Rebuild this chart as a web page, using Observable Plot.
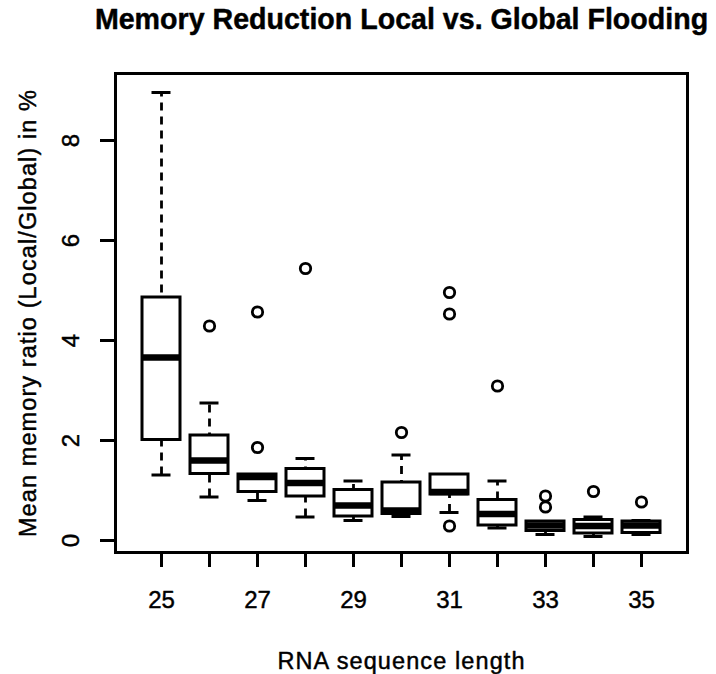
<!DOCTYPE html>
<html>
<head>
<meta charset="utf-8">
<script src="https://cdn.jsdelivr.net/npm/d3@7"></script>
<script src="https://cdn.jsdelivr.net/npm/@observablehq/plot@0.6"></script>
<style>
  html, body { margin: 0; padding: 0; background: #fff; }
  svg { display: block; }
</style>
</head>
<body>
<div id="chart"></div>
<script>
const titleText = "Memory Reduction Local vs. Global Flooding";
const xLabel = "RNA sequence length";
const yLabel = "Mean memory ratio (Local/Global) in %";

const lengths     = [25, 26, 27, 28, 29, 30, 31, 32, 33, 34, 35];
const whiskerLow  = [1.31, 0.87, 0.80, 0.47, 0.40, 0.48, 0.56, 0.25, 0.12, 0.08, 0.12];
const q1          = [2.01, 1.33, 0.97, 0.88, 0.48, 0.53, 0.92, 0.30, 0.19, 0.14, 0.15];
const medians     = [3.66, 1.60, 1.27, 1.15, 0.70, 0.60, 0.97, 0.53, 0.30, 0.29, 0.30];
const q3          = [4.86, 2.10, 1.32, 1.43, 1.01, 1.16, 1.32, 0.81, 0.38, 0.41, 0.38];
const whiskerHigh = [8.96, 2.75, 1.32, 1.64, 1.19, 1.71, 1.32, 1.19, 0.38, 0.47, 0.40];

const outlierLength = [26, 27, 27, 28, 30, 31, 31, 31, 32, 33, 33, 34, 35];
const outlierValue  = [4.29, 4.57, 1.86, 5.44, 2.16, 4.96, 4.53, 0.29, 3.09, 0.89, 0.67, 0.98, 0.77];

const yTicks = [0, 2, 4, 6, 8];

const boxes = lengths.map((len, i) => ({
  len, lo: whiskerLow[i], q1: q1[i], med: medians[i], q3: q3[i], hi: whiskerHigh[i]
}));
const outliers = outlierLength.map((len, i) => ({len, v: outlierValue[i]}));

const font = "Liberation Sans, Arial, Helvetica, sans-serif";
const heavy = {fill: "black", stroke: "black", strokeWidth: 0.45};

const chart = Plot.plot({
  width: 716,
  height: 674,
  marginLeft: 115,
  marginRight: 29,
  marginTop: 73,
  marginBottom: 122,
  style: {fontFamily: font, fontSize: "24px", color: "black", background: "white"},
  x: {type: "band", domain: lengths, paddingInner: 0.2, paddingOuter: 0.54},
  y: {domain: [-0.24, 9.34]},
  marks: [
    Plot.ruleX(boxes, {x: "len", y1: "lo", y2: "hi", stroke: "black", strokeWidth: 2.8, strokeDasharray: "8,6"}),
    Plot.tickY(boxes, {x: "len", y: "lo", stroke: "black", strokeWidth: 3, insetLeft: 9.5, insetRight: 9.5}),
    Plot.tickY(boxes, {x: "len", y: "hi", stroke: "black", strokeWidth: 3, insetLeft: 9.5, insetRight: 9.5}),
    Plot.barY(boxes, {x: "len", y1: "q1", y2: "q3", fill: "white", stroke: "black", strokeWidth: 3}),
    Plot.tickY(boxes, {x: "len", y: "med", stroke: "black", strokeWidth: 6.5}),
    Plot.dot(outliers, {x: "len", y: "v", r: 5.2, stroke: "black", strokeWidth: 2.8, fill: "white"}),
    Plot.frame({stroke: "black", strokeWidth: 3}),
    Plot.axisX({tickSize: 15, tickPadding: 23, strokeWidth: 3, fontSize: 24, label: null,
      tickFormat: () => ""}),
    Plot.text(lengths.filter(d => d % 2 === 1), {x: d => d, text: d => String(d), frameAnchor: "bottom", dy: 38,
      fontSize: 24, lineAnchor: "top", ...heavy}),
    Plot.axisY({ticks: yTicks, tickSize: 15, strokeWidth: 3, tickFormat: () => "", label: null}),
    Plot.text(yTicks, {y: d => d, text: d => String(d), frameAnchor: "left", dx: -44, rotate: -90,
      fontSize: 24, lineAnchor: "middle", textAnchor: "middle", ...heavy}),
    Plot.text([xLabel], {frameAnchor: "bottom", dy: 116, fontSize: 23.5,
      lineAnchor: "bottom", textAnchor: "middle", ...heavy}),
    Plot.text([yLabel], {frameAnchor: "left", dx: -87, rotate: -90, fontSize: 23.5,
      lineAnchor: "middle", textAnchor: "middle", ...heavy}),
    Plot.text([titleText], {frameAnchor: "top", dy: -45, fontSize: 28.6, fontWeight: "bold",
      lineAnchor: "bottom", textAnchor: "middle", ...heavy})
  ]
});
// widen the axis titles slightly, like the reference's rendering
chart.querySelectorAll("text").forEach(t => {
  if (t.textContent === xLabel || t.textContent === yLabel) t.style.letterSpacing = "1.1px";
});
document.getElementById("chart").appendChild(chart);
</script>
</body>
</html>
